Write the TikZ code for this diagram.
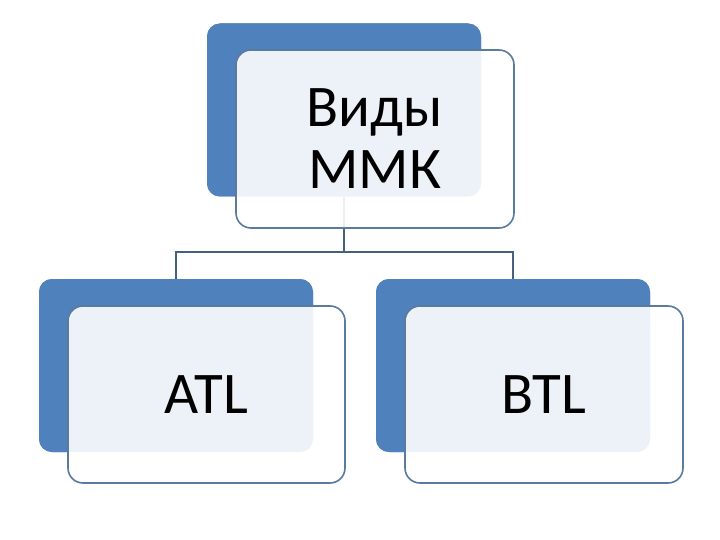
\documentclass[tikz,border=0pt]{standalone}
\usepackage{fontspec}
\setmainfont{Carlito}
\definecolor{accent}{HTML}{4F81BD}
\definecolor{frame}{HTML}{5A7A9E}
\definecolor{link}{HTML}{46607F}
\begin{document}
\begin{tikzpicture}[x=1pt,y=-1pt,
  back/.style={rectangle, rounded corners=13pt, fill=accent, draw=none,
     minimum width=274pt, minimum height=173pt, inner sep=0pt},
  front/.style={rectangle, rounded corners=15pt, fill=white, fill opacity=0.9,
     text opacity=1, draw=frame, line width=1.6pt,
     minimum width=277pt, minimum height=177pt, inner sep=0pt,
     font=\fontsize{59}{62}\selectfont, align=center},
  conn/.style={draw=link, line width=1.6pt}]
\useasboundingbox (0,0) rectangle (720,540);
\fill[white] (0,0) rectangle (720,540);
\node[back] (topb) at (344,110) {};
\node[back] (leftb) at (176,365.5) {};
\node[back] (rightb) at (513,365.5) {};
\coordinate (hub) at (344,252);
\draw[conn] (topb.south) -- (hub) -| (leftb.north);
\draw[conn] (hub) -| (rightb.north);
\node[back] at (344,110) {};
\node[back] at (176,365.5) {};
\node[back] at (513,365.5) {};
\node[front, minimum width=278pt, minimum height=178pt] (topf) at (375,139) {Виды\\ММК};
\node[front] (leftf) at (206.5,394.5) {ATL};
\node[front, minimum width=278pt] (rightf) at (544,394.5) {BTL};
\end{tikzpicture}
\end{document}
